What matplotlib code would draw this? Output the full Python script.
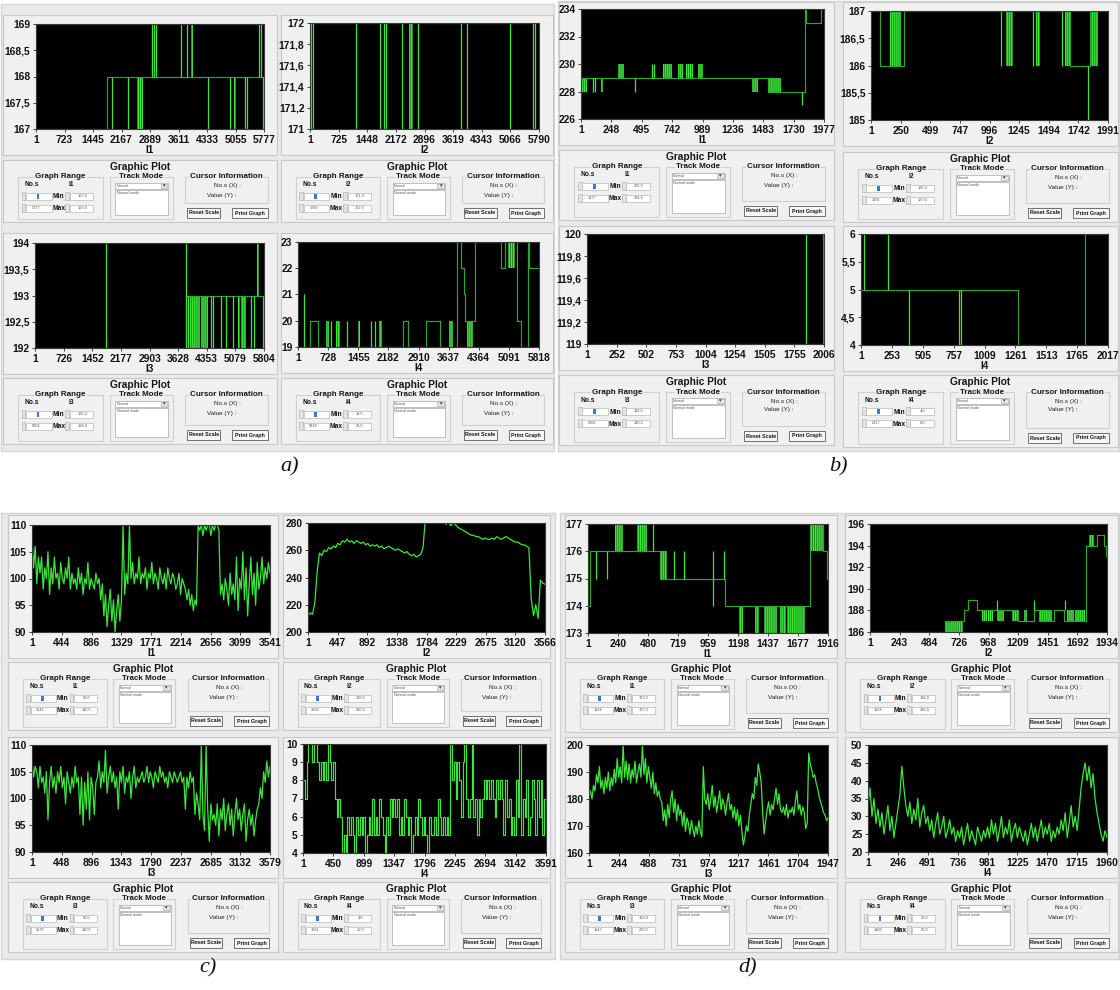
import numpy as np
import matplotlib
matplotlib.use("Agg")
import matplotlib.pyplot as plt
from matplotlib.patches import Rectangle

plt.rcParams['font.family'] = ['Liberation Sans', 'DejaVu Sans']
plt.rcParams['hatch.linewidth'] = 0.9

# ======================= DATA =======================
# ---------- a) ----------
a1_xt = [1, 723, 1445, 2167, 2889, 3611, 4333, 5055, 5777]
a1_yt = [167, 167.5, 168, 168.5, 169]
a1_step_x = [1, 1790]
a1_step_y = [167, 168]
a1_spikes = [(1915, 167, 168), (2335, 167, 168), (2928, 168, 169), (2995, 168, 169),
             (3053, 168, 169), (3685, 168, 169), (3838, 168, 169), (4360, 167, 168),
             (4910, 167, 168), (5287, 167, 168), (5345, 167, 168), (5650, 168, 169),
             (5710, 168, 169), (5750, 167, 168)]
a1_bands = [(2560, 2700, 167, 168), (3935, 3985, 168, 169), (5020, 5055, 167, 168)]

a2_xt = [1, 725, 1448, 2172, 2896, 3619, 4343, 5066, 5790]
a2_yt = [171, 171.2, 171.4, 171.6, 171.8, 172]
a2_step_x = [1]
a2_step_y = [172]
a2_spikes = [(17, 171, 172), (70, 171, 172), (1152, 171, 172), (1783, 171, 172),
             (1870, 171, 172), (1911, 171, 172), (2333, 171, 172), (2733, 171, 172),
             (3827, 171, 172), (3972, 171, 172), (5066, 171, 172), (5640, 171, 172),
             (5680, 171, 172)]
a2_bands = [(2507, 2611, 171, 172)]

a3_xt = [1, 726, 1452, 2177, 2903, 3628, 4353, 5079, 5804]
a3_yt = [192, 192.5, 193, 193.5, 194]
a3_step_x = [1, 3820]
a3_step_y = [192, 193]
a3_spikes = [(1790, 192, 194), (3815, 192, 194), (3866, 192, 193), (4469, 192, 193),
             (4516, 192, 193), (4725, 192, 193), (4852, 192, 193), (5021, 192, 193),
             (5485, 192, 193), (5543, 192, 193), (5780, 192, 193)]
a3_bands = [(3924, 4179, 192, 193), (4220, 4388, 192, 193), (5148, 5189, 192, 193),
            (5230, 5357, 192, 193), (5624, 5676, 193, 194)]

a4_xt = [1, 728, 1455, 2182, 2910, 3637, 4364, 5091, 5818]
a4_yt = [19, 20, 21, 22, 23]
a4_step_x = [1, 282, 483, 2535, 2655, 3082, 3420, 3838, 3927, 4000, 4040, 4265,
             4909, 4990, 5295, 5392, 5552, 5568]
a4_step_y = [19, 20, 19, 20, 19, 20, 19, 23, 22, 21, 20, 23, 22, 23, 20, 19, 23, 22]
a4_spikes = [(145, 19, 21), (805, 19, 20), (1183, 19, 20), (1770, 19, 20), (1851, 19, 20)]
a4_bands = [(684, 740, 19, 20), (925, 1006, 19, 20), (1448, 1489, 19, 20),
            (1955, 2036, 19, 20), (3637, 3742, 19, 20), (4080, 4225, 19, 20),
            (5070, 5247, 22, 23)]

# ---------- b) ----------
b1_xt = [1, 248, 495, 742, 989, 1236, 1483, 1730, 1977]
b1_yt = [226, 228, 230, 232, 234]
b1_step_x = [1, 1522, 1825, 1834, 1955]
b1_step_y = [229, 228, 234, 233, 234]
b1_spikes = [(100, 228, 229), (114, 228, 229), (444, 228, 229), (580, 229, 230),
             (596, 229, 230), (1798, 227, 228)]
b1_bands = [(5, 46, 228, 229), (162, 181, 228, 229), (303, 352, 229, 230),
            (669, 742, 229, 230), (791, 831, 229, 230), (858, 913, 229, 230),
            (953, 994, 229, 230), (1395, 1441, 228, 229), (1522, 1630, 228, 229)]

b2_xt = [1, 250, 499, 747, 996, 1245, 1494, 1742, 1991]
b2_yt = [185, 185.5, 186, 186.5, 187]
b2_step_x = [1, 75, 277, 1669, 1837]
b2_step_y = [187, 186, 187, 186, 187]
b2_spikes = [(1096, 186, 187), (1362, 186, 187), (1605, 186, 187), (1823, 185, 186)]
b2_bands = [(159, 257, 186, 187), (1138, 1194, 186, 187), (1390, 1418, 186, 187),
            (1627, 1669, 186, 187), (1837, 1907, 186, 187)]

b3_xt = [1, 252, 502, 753, 1004, 1254, 1505, 1755, 2006]
b3_yt = [119, 119.2, 119.4, 119.6, 119.8, 120]
b3_step_x = [1, 1995]
b3_step_y = [119, 120]
b3_spikes = [(1851, 119, 120)]
b3_bands = []

b4_xt = [1, 253, 505, 757, 1009, 1261, 1513, 1765, 2017]
b4_yt = [4, 4.5, 5, 5.5, 6]
b4_step_x = [1, 1279, 1827]
b4_step_y = [5, 4, 6]
b4_spikes = [(22, 5, 6), (225, 5, 6), (394, 4, 5), (801, 4, 5), (814, 4, 5)]
b4_bands = []

# ---------- c) ----------
c1_xt = [1, 444, 886, 1329, 1771, 2214, 2656, 3099, 3541]
c1_yt = [90, 95, 100, 105, 110]
c1_vals = [108, 102, 106, 99, 104,
           101, 104, 98, 102, 100, 105, 97, 102, 99, 104, 100, 101, 98, 103, 100, 99, 102,
           100, 104, 98, 101, 99, 100, 98, 102, 99, 101, 97, 100, 99, 103, 98, 100, 99, 98, 101, 99,
           100, 96, 99, 93, 97, 91, 95, 98, 92, 96, 90, 94, 97, 92, 96,
           110, 97, 101, 99, 110,
           100, 103, 99, 101, 100, 104, 99, 101, 100, 102, 98, 101, 100, 103, 99, 101, 100, 98,
           102, 100, 99, 101, 98, 102, 100, 99, 101, 100, 98, 99, 101, 97, 100, 99, 98,
           96, 98, 95, 97, 94, 96, 95,
           110, 109, 110, 108, 110, 109, 110, 110, 108, 110, 109, 110, 110, 109,
           97, 99, 96, 100, 98, 95, 101, 97, 99, 96, 104, 94, 100, 98, 105, 96, 102, 93, 99,
           104, 97, 101, 95, 103, 98, 100, 104, 99, 102, 100, 103, 101]

c2_xt = [1, 447, 892, 1338, 1784, 2229, 2675, 3120, 3566]
c2_yt = [200, 220, 240, 260, 280]
c2_vals = [212, 214, 213, 222, 245,
           258, 256, 260, 259, 262, 261, 263, 262, 265, 264, 267, 266,
           268, 266, 267, 265, 267, 266, 265, 266, 264, 265, 263, 264, 263, 264,
           262, 263, 261, 262, 263, 262, 261, 260, 261, 260,
           259, 258, 259, 257, 256, 257, 255, 256, 257, 262,
           283, 284, 285, 284, 285, 283, 284, 282, 283,
           279, 281, 278, 280, 279,
           277, 276, 275, 274, 273, 272, 271, 271, 270, 270,
           269, 268, 269, 268, 268, 269, 268, 270, 269, 268, 269, 270, 269, 268,
           267, 266, 266, 265, 264, 264, 263, 262,
           225, 212, 220, 210, 238, 236, 235]

c3_xt = [1, 448, 896, 1343, 1790, 2237, 2685, 3132, 3579]
c3_yt = [90, 95, 100, 105, 110]
c3_vals = [107, 104, 106,
           105, 102, 106, 103, 104, 101, 105, 96, 103, 106, 102, 104, 101, 105, 103, 106, 102,
           104, 99, 105, 103, 101, 104, 102, 106, 103, 104,
           97, 104, 95, 103, 98, 105, 96, 104, 102, 97, 103,
           104, 107, 102, 105, 103, 109, 101, 104, 106, 103, 105, 102, 104, 98, 105, 103, 106,
           101, 104, 103, 105, 100, 104, 106, 102, 104, 103,
           104, 105, 103, 104, 106, 103, 105, 104, 102, 105, 104, 103, 106, 104, 105, 103, 104,
           102, 105, 104, 103, 105, 104, 103, 104,
           105, 103, 104, 98, 104, 102, 105, 103, 104, 97, 101, 99,
           96, 110, 97, 94, 110, 98, 92, 99, 96,
           97, 95, 99, 93, 98, 96, 100, 94, 97, 99, 95, 98, 93, 97, 100, 96, 98, 94, 97, 99, 92,
           96, 98, 95, 97, 93, 96, 98,
           99, 102, 100, 105, 103, 107, 104, 106]

c4_xt = [1, 450, 899, 1347, 1796, 2245, 2694, 3142, 3591]
c4_yt = [4, 5, 6, 7, 8, 9, 10]
c4_vals = [8, 7, 9, 10, 10, 9, 10, 10, 9, 8, 9, 8, 9, 8, 10, 9, 8,
           9, 7, 6, 7, 6, 4, 5, 4,
           6, 5, 6, 5, 4, 6, 5, 6, 5, 6, 4, 5, 6, 5,
           7, 5, 6, 5, 7, 6, 5, 4, 6, 5, 7, 6, 7, 6, 7,
           5, 6, 5, 7, 6, 5, 6, 4, 5, 6, 5, 7, 6, 5, 6, 5, 4, 6, 5,
           5, 6, 5, 7, 6, 5, 6, 5, 6, 5,
           10, 8, 9, 7, 9, 8, 6, 9, 10, 7, 6, 7, 10, 6, 7, 5, 7, 6,
           7, 8, 7, 8, 7, 8, 7, 6, 8, 7, 8, 7,
           5, 8, 6, 7, 5, 6, 5, 8, 6, 10, 5, 7, 6, 8, 5,
           6, 8, 7, 5, 8, 6, 8, 5, 7, 6]

# ---------- d) ----------
d1_xt = [1, 240, 480, 719, 959, 1198, 1437, 1677, 1916]
d1_yt = [173, 174, 175, 176, 177]
d1_step_x = [1, 17, 574, 1096, 1775, 1873, 1908]
d1_step_y = [174, 176, 175, 174, 177, 176, 175]
d1_spikes = [(65, 175, 176), (150, 175, 176), (517, 176, 177), (687, 175, 176),
             (766, 175, 176), (998, 174, 176), (1088, 175, 176)]
d1_bands = [(220, 277, 176, 177), (390, 475, 176, 177), (574, 630, 175, 176),
            (1209, 1238, 173, 174), (1337, 1365, 173, 174), (1407, 1506, 173, 174),
            (1534, 1577, 173, 174), (1591, 1732, 173, 174), (1775, 1873, 176, 177)]

d2_xt = [1, 243, 484, 726, 968, 1209, 1451, 1692, 1934]
d2_yt = [186, 188, 190, 192, 194, 196]
d2_step_x = [1, 613, 768, 804, 872, 1212, 1335, 1376, 1498, 1580, 1765, 1852, 1907, 1925]
d2_step_y = [186, 187, 188, 189, 188, 187, 188, 187, 188, 187, 194, 195, 194, 193]
d2_spikes = [(1035, 188, 189), (1335, 188, 189), (1589, 188, 189)]
d2_bands = [(613, 763, 186, 187), (913, 954, 187, 188), (967, 1008, 187, 188),
            (1035, 1090, 187, 188), (1158, 1212, 187, 188), (1253, 1280, 187, 188),
            (1376, 1485, 187, 188), (1607, 1662, 187, 188), (1675, 1757, 187, 188),
            (1785, 1825, 194, 195)]

d3_xt = [1, 244, 488, 731, 974, 1217, 1461, 1704, 1947]
d3_yt = [160, 170, 180, 190, 200]
d3_vals = [181, 183, 180,
           185, 183, 189, 186, 192, 184,
           187, 182, 188, 184, 190, 183,
           188, 185, 191, 186, 195, 188, 192,
           186, 200, 188, 194,
           187, 193, 186, 191, 188, 194, 186, 190, 193, 188,
           200, 189, 195, 186, 192, 188,
           184, 190, 182, 186, 181, 183, 180,
           179, 172, 176, 170, 178, 173, 180,
           183, 175, 180, 172, 178, 174, 176,
           170, 175, 168, 173, 171, 167, 172, 169,
           166, 170, 167, 172, 168, 166,
           192, 180,
           178, 182, 176, 180, 185, 177, 181, 175, 179, 183, 176, 180, 178, 174, 179, 182,
           176, 178, 173, 177,
           172, 176, 170, 174, 168, 163, 166, 170, 168,
           174, 178, 182, 180,
           188, 185, 193, 190, 186,
           175, 167, 172,
           176, 179, 174, 178, 176, 180,
           184, 178, 182, 176,
           175, 177, 174, 178, 173, 176, 175, 177, 174,
           179, 183, 176, 178, 174, 177, 175,
           169, 171,
           197, 193,
           191, 188, 189, 186, 184, 181, 179, 177, 175,
           174, 172, 173]

d4_xt = [1, 246, 491, 736, 981, 1225, 1470, 1715, 1960]
d4_yt = [20, 25, 30, 35, 40, 45, 50]
d4_vals = [33, 38, 30, 35, 28, 32,
           27, 31, 25, 29, 33, 26, 30, 24, 28, 32,
           36, 44, 38, 33,
           30, 34, 28, 32, 29, 35, 27, 31, 33, 28, 30,
           26, 29, 24, 28, 31, 25, 27, 30, 24, 26, 29, 25, 27, 23, 26,
           24, 27, 22, 25, 28, 23, 26, 24, 22, 27, 25, 23, 26, 24,
           27, 24, 29, 25, 28, 23, 26, 30, 24, 27, 25, 29, 23, 26, 28, 24, 27, 25,
           23, 26, 22, 25, 28, 24, 27, 23, 26, 29, 24, 27, 25, 28, 23, 26, 24, 27,
           25, 29, 26, 31, 24, 28, 33, 27, 30, 26,
           32, 38, 42, 45, 40, 44,
           38, 42, 35, 31, 28,
           25, 23, 26, 24]

# ======================= PANELS =======================
PANELS = [
    ('a1', 'I1', a1_xt, a1_yt, 'step', (a1_step_x, a1_step_y, a1_spikes, a1_bands)),
    ('a2', 'I2', a2_xt, a2_yt, 'step', (a2_step_x, a2_step_y, a2_spikes, a2_bands)),
    ('a3', 'I3', a3_xt, a3_yt, 'step', (a3_step_x, a3_step_y, a3_spikes, a3_bands)),
    ('a4', 'I4', a4_xt, a4_yt, 'step', (a4_step_x, a4_step_y, a4_spikes, a4_bands)),
    ('b1', 'I1', b1_xt, b1_yt, 'step', (b1_step_x, b1_step_y, b1_spikes, b1_bands)),
    ('b2', 'I2', b2_xt, b2_yt, 'step', (b2_step_x, b2_step_y, b2_spikes, b2_bands)),
    ('b3', 'I3', b3_xt, b3_yt, 'step', (b3_step_x, b3_step_y, b3_spikes, b3_bands)),
    ('b4', 'I4', b4_xt, b4_yt, 'step', (b4_step_x, b4_step_y, b4_spikes, b4_bands)),
    ('c1', 'I1', c1_xt, c1_yt, 'noise', c1_vals),
    ('c2', 'I2', c2_xt, c2_yt, 'noise', c2_vals),
    ('c3', 'I3', c3_xt, c3_yt, 'noise', c3_vals),
    ('c4', 'I4', c4_xt, c4_yt, 'level', c4_vals),
    ('d1', 'I1', d1_xt, d1_yt, 'step', (d1_step_x, d1_step_y, d1_spikes, d1_bands)),
    ('d2', 'I2', d2_xt, d2_yt, 'step', (d2_step_x, d2_step_y, d2_spikes, d2_bands)),
    ('d3', 'I3', d3_xt, d3_yt, 'noise', d3_vals),
    ('d4', 'I4', d4_xt, d4_yt, 'noise', d4_vals),
]

# ======================= LAYOUT (pixels) =======================
LAY = {
    'a1': ((36, 24, 264, 129), (3, 277), 15, (160, 222)),
    'a2': ((310, 23, 539, 129), (281, 553), 15, (160, 222)),
    'a3': ((35, 243, 264, 348), (3, 277), 233, (378, 444)),
    'a4': ((298, 242, 539, 347), (281, 553), 233, (378, 444)),
    'b1': ((581, 9, 824, 119), (559, 834), 2, (150, 220)),
    'b2': ((871, 11, 1108, 120), (843, 1118), 2, (152, 222)),
    'b3': ((587, 234, 824, 344), (559, 834), 226, (375, 445)),
    'b4': ((861, 234, 1108, 345), (843, 1118), 226, (375, 447)),
    'c1': ((32, 525, 270, 632), (8, 278), 515, (662, 730)),
    'c2': ((308, 523, 545, 632), (283, 550), 515, (662, 730)),
    'c3': ((32, 745, 270, 852), (8, 278), 737, (882, 952)),
    'c4': ((303, 744, 546, 853), (283, 550), 737, (882, 952)),
    'd1': ((588, 524, 828, 633), (565, 837), 515, (662, 732)),
    'd2': ((870, 524, 1107, 632), (845, 1118), 515, (662, 732)),
    'd3': ((589, 745, 828, 853), (565, 837), 737, (882, 952)),
    'd4': ((868, 745, 1107, 852), (845, 1118), 737, (882, 952)),
}
QUAD = [(0, 3, 555, 452), (557, 0, 1120, 452), (0, 512, 556, 960), (559, 512, 1120, 960)]
QLAB = [('a)', 290, 467), ('b)', 838, 467), ('c)', 208, 968), ('d)', 748, 968)]

W, H = 1120, 990
UI = '#f0f0f0'
EDGE = '#c8c8c8'
GLINE = '#2aa82a'
GBRIGHT = '#3ae83a'

fig = plt.figure(figsize=(W / 100, H / 100), dpi=100, facecolor='white')
bg = fig.add_axes([0, 0, 1, 1])
bg.set_xlim(0, W)
bg.set_ylim(H, 0)
bg.axis('off')


def rect(x0, y0, x1, y1, fc='none', ec=EDGE, lw=0.8, z=1):
    bg.add_patch(Rectangle((x0, y0), x1 - x0, y1 - y0, facecolor=fc, edgecolor=ec,
                           linewidth=lw, zorder=z))


def txt(x, y, s, size, weight='bold', ha='center', color='#151515', z=5, box=False):
    kw = {}
    if box:
        kw['bbox'] = dict(facecolor=UI, edgecolor='none', pad=0.6)
    bg.text(x, y, s, fontsize=size, fontweight=weight, ha=ha, va='center', color=color,
            zorder=z, **kw)


def fmt(v):
    return ('%g' % v).replace('.', ',')


def control(fl, fr, ct, cb, name, n, ymin, ymax):
    w = fr - fl
    rect(fl, ct, fr, cb, fc=UI, ec=EDGE, z=2)
    txt(fl + 0.5 * w, ct + 7, 'Graphic Plot', 7.3)
    gy0, gy1 = ct + 17, cb - 3
    # Graph Range
    rect(fl + 0.055 * w, gy0, fl + 0.365 * w, gy1, ec='#cfcfcf', z=3)
    txt(fl + 0.21 * w, gy0, 'Graph Range', 5.8, box=True)
    txt(fl + 0.105 * w, gy0 + 8, 'No.s', 4.8)
    txt(fl + 0.248 * w, gy0 + 8, name, 4.8)
    rows = [('Min', '1', '%.1f' % ymin), ('Max', str(n), '%.1f' % ymax)]
    for k, (lab, left, right) in enumerate(rows):
        yy = gy0 + 19 + 12 * k
        rect(fl + 0.068 * w, yy - 4, fl + 0.082 * w, yy + 4, fc='#e4e4e4', ec='#b5b5b5', lw=0.5, z=3)
        rect(fl + 0.085 * w, yy - 3.5, fl + 0.178 * w, yy + 3.5, fc='white', ec='#b9b9b9', lw=0.5, z=3)
        if k == 0:
            rect(fl + 0.123 * w, yy - 2.5, fl + 0.133 * w, yy + 2.5, fc='#3779d6', ec='none', z=4)
        else:
            txt(fl + 0.12 * w, yy, left, 2.8, weight='normal', color='#555')
        txt(fl + 0.203 * w, yy + 1, lab, 4.8)
        rect(fl + 0.228 * w, yy - 4, fl + 0.242 * w, yy + 4, fc='#e4e4e4', ec='#b5b5b5', lw=0.5, z=3)
        rect(fl + 0.245 * w, yy - 3.5, fl + 0.33 * w, yy + 3.5, fc='white', ec='#b9b9b9', lw=0.5, z=3)
        txt(fl + 0.29 * w, yy, right.replace('.', ','), 2.8, weight='normal', color='#555')
    # Track Mode
    rect(fl + 0.39 * w, gy0, fl + 0.62 * w, gy1, ec='#cfcfcf', z=3)
    txt(fl + 0.505 * w, gy0, 'Track Mode', 5.8, box=True)
    rect(fl + 0.41 * w, gy0 + 6, fl + 0.603 * w, gy0 + 12, fc='white', ec='#a9a9a9', lw=0.5, z=3)
    rect(fl + 0.575 * w, gy0 + 6.8, fl + 0.6 * w, gy0 + 11.2, fc='#e8e8e8', ec='#a0a0a0', lw=0.4, z=4)
    txt(fl + 0.5875 * w, gy0 + 9, '\u25be', 3.5, weight='normal', color='#333', z=6)
    txt(fl + 0.415 * w, gy0 + 9, 'Normal', 2.6, weight='normal', ha='left', color='#555')
    rect(fl + 0.41 * w, gy0 + 13, fl + 0.603 * w, gy1 - 4, fc='white', ec='#a9a9a9', lw=0.5, z=3)
    txt(fl + 0.415 * w, gy0 + 16, 'Normal mode', 2.6, weight='normal', ha='left', color='#555')
    # Cursor Information
    rect(fl + 0.665 * w, gy0, fl + 0.967 * w, gy1 - 16, ec='#cfcfcf', z=3)
    txt(fl + 0.816 * w, gy0, 'Cursor Information', 5.8, box=True)
    txt(fl + 0.77 * w, gy0 + 9, 'No.s (X) :', 4.6, weight='normal', ha='left', color='#222')
    txt(fl + 0.745 * w, gy0 + 18, 'Value (Y) :', 4.6, weight='normal', ha='left', color='#222')
    # Buttons
    by0, by1 = cb - 14, cb - 4
    for lab, x0, x1 in [('Reset Scale', 0.673, 0.793), ('Print Graph', 0.837, 0.967)]:
        rect(fl + x0 * w, by0, fl + x1 * w, by1, fc='#f7f7f7', ec='#6f6f6f', lw=0.7, z=3)
        txt(fl + (x0 + x1) / 2 * w, (by0 + by1) / 2, lab, 3.9)


for (x0, y0, x1, y1) in QUAD:
    rect(x0 + 1, y0 + 1, x1 - 1, y1 - 1, fc='#e9e9e9', ec='#d5d5d5', lw=1.0, z=0)
for lab, x, y in QLAB:
    bg.text(x, y, lab, fontsize=16, fontstyle='italic', family='Liberation Serif',
            ha='center', va='center', color='#111')


for key, name, xt, yt, kind, data in PANELS:
    (l, t, r, b), (fl, fr), ft, (ct, cb) = LAY[key]
    n = xt[-1]
    rect(fl, ft, fr, min(b + 26, ct - 4), fc=UI, ec=EDGE, z=1)
    control(fl, fr, ct, cb, name, n, yt[0], yt[-1])

    ax = fig.add_axes([l / W, 1 - b / H, (r - l) / W, (b - t) / H])
    ax.set_facecolor('black')
    if kind == 'step':
        sx, sy, spikes, bands = data
        ax.step(list(sx) + [n], list(sy) + [sy[-1]], where='post', color=GLINE, lw=0.85)
        for (x0, x1, lo, hi) in bands:
            ax.fill_between([x0, x1], [lo, lo], [hi, hi], facecolor=(0.2, 0.85, 0.2, 0.6),
                            edgecolor=GBRIGHT, hatch='||||||||', lw=0)
        if spikes:
            ax.vlines([s[0] for s in spikes], [s[1] for s in spikes], [s[2] for s in spikes],
                      color=GBRIGHT, lw=0.9)
    elif kind == 'level':
        xs = np.linspace(1, n, len(data))
        ax.step(xs, data, where='post', color=GBRIGHT, lw=0.85)
    else:
        xs = np.linspace(1, n, len(data))
        ax.plot(xs, data, color=GBRIGHT, lw=0.9)
    ax.set_xlim(xt[0], xt[-1])
    ax.set_ylim(yt[0], yt[-1])
    ax.set_xticks(xt)
    ax.set_xticklabels([str(v) for v in xt], fontweight='bold')
    ax.set_yticks(yt)
    ax.set_yticklabels([fmt(v) for v in yt], fontweight='bold')
    ax.tick_params(length=2.5, width=0.7, color='#404040', labelsize=7.4, pad=1.5,
                   labelcolor='#111')
    for s in ax.spines.values():
        s.set_color('#3a3a3a')
        s.set_linewidth(0.8)
    ax.set_xlabel(name, fontsize=7.2, fontweight='bold', labelpad=0.3, color='#111')

fig.savefig('out.png', dpi=100, facecolor='white')
